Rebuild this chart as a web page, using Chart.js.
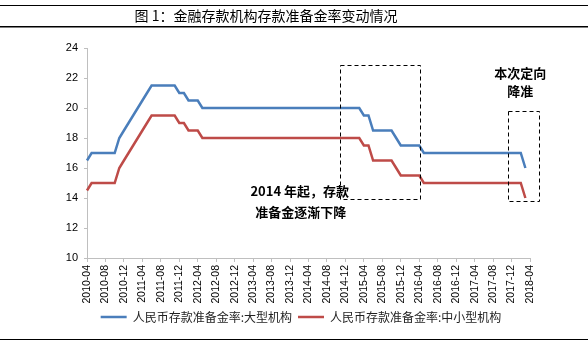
<!DOCTYPE html>
<html>
<head>
<meta charset="utf-8">
<script src="https://cdn.jsdelivr.net/npm/chart.js@4.4.1/dist/chart.umd.min.js"></script>
<style>
html, body { margin: 0; padding: 0; background: #fff; }
</style>
</head>
<body>
<canvas id="myChart" width="588" height="345"></canvas>
<script>
// 月份标签：2010-04 ～ 2018-04
let months = [];
for (let y = 2010, m = 4; y < 2018 || (y === 2018 && m <= 4); m++) {
    if (m > 12) { m = 1; y++; }
    if (y === 2018 && m > 4) break;
    months.push(y + '-' + String(m).padStart(2, '0'));
}

// 人民币存款准备金率：大型机构（月末，%）
let large_rate = [
    16.5, 17, 17, 17, 17, 17, 17, 18, 18.5,
    19, 19.5, 20, 20.5, 21, 21.5, 21.5, 21.5, 21.5, 21.5, 21.5, 21,
    21, 20.5, 20.5, 20.5, 20, 20, 20, 20, 20, 20, 20, 20,
    20, 20, 20, 20, 20, 20, 20, 20, 20, 20, 20, 20, 20, 20,
    20, 20, 20, 20, 20, 20, 20, 20, 20, 20, 20, 20,
    20, 19.5, 19.5, 18.5, 18.5, 18.5, 18.5, 18.5, 18, 17.5, 17.5, 17.5,
    17.5, 17.5, 17, 17, 17, 17, 17, 17, 17, 17, 17, 17,
    17, 17, 17, 17, 17, 17, 17, 17, 17, 17, 17, 17,
    16
];
// 人民币存款准备金率：中小型机构（月末，%）
let small_rate = [
    14.5, 15, 15, 15, 15, 15, 15, 16, 16.5,
    17, 17.5, 18, 18.5, 19, 19.5, 19.5, 19.5, 19.5, 19.5, 19.5, 19,
    19, 18.5, 18.5, 18.5, 18, 18, 18, 18, 18, 18, 18, 18,
    18, 18, 18, 18, 18, 18, 18, 18, 18, 18, 18, 18, 18, 18,
    18, 18, 18, 18, 18, 18, 18, 18, 18, 18, 18, 18,
    18, 17.5, 17.5, 16.5, 16.5, 16.5, 16.5, 16.5, 16, 15.5, 15.5, 15.5,
    15.5, 15.5, 15, 15, 15, 15, 15, 15, 15, 15, 15, 15,
    15, 15, 15, 15, 15, 15, 15, 15, 15, 15, 15, 15,
    14
];
let y_ticks = [10, 12, 14, 16, 18, 20, 22, 24];

let title_text = '图 1：金融存款机构存款准备金率变动情况';
let series_names = ['人民币存款准备金率:大型机构', '人民币存款准备金率:中小型机构'];

// 虚线框（横轴为月份序号，纵轴为数值）
let boxes = [
    {x1: 54.8, x2: 72.2, y1: 22.9, y2: 13.93},
    {x1: 91.2, x2: 97.9, y1: 19.8, y2: 13.8}
];
// 注释文字
let notes = [
    {text: '2014 年起，存款', x: 46.1, y: 14.45},
    {text: '准备金逐渐下降', x: 46.3, y: 13.05},
    {text: '本次定向', x: 93.9, y: 22.3},
    {text: '降准', x: 93.9, y: 21.1}
];

// 图例右移（对齐原图位置）
const legendShift = {
    id: 'legendShift',
    afterLayout(chart) {
        const lg = chart.legend;
        if (!lg) return;
        lg.left += 36;
        lg.right += 36;
        lg.top += 2;
        lg.bottom += 2;
    }
};

// 标题、上下横线、虚线框和注释
const decoPlugin = {
    id: 'deco',
    afterDraw(chart) {
        const c = chart.ctx;
        const xs = chart.scales.x, ys = chart.scales.y;
        c.save();
        c.strokeStyle = '#000';
        c.lineWidth = 1;
        c.beginPath(); c.moveTo(0, 5.5); c.lineTo(588, 5.5); c.stroke();
        c.lineWidth = 1.5;
        c.beginPath(); c.moveTo(0, 26.75); c.lineTo(588, 26.75); c.stroke();
        c.lineWidth = 1;
        c.beginPath(); c.moveTo(0, 339.5); c.lineTo(588, 339.5); c.stroke();

        c.fillStyle = '#000';
        c.font = '14px "Noto Sans CJK SC"';
        c.textAlign = 'center';
        c.textBaseline = 'middle';
        c.fillText(title_text, 266, 16);

        c.setLineDash([4, 3]);
        c.lineWidth = 1;
        for (const b of boxes) {
            const x1 = Math.round(xs.getPixelForValue(b.x1)) + 0.5;
            const x2 = Math.round(xs.getPixelForValue(b.x2)) + 0.5;
            const y1 = Math.round(ys.getPixelForValue(b.y1)) + 0.5;
            const y2 = Math.round(ys.getPixelForValue(b.y2)) + 0.5;
            c.strokeRect(x1, y1, x2 - x1, y2 - y1);
        }
        c.setLineDash([]);

        c.font = 'bold 13px "Noto Sans CJK SC"';
        for (const n of notes) {
            c.fillText(n.text, xs.getPixelForValue(n.x), ys.getPixelForValue(n.y));
        }
        c.restore();
    }
};

let ctx = document.getElementById('myChart');
let myChart = new Chart(ctx, {
    type: 'line',
    data: {
        labels: months,
        datasets: [{
            label: series_names[0],
            data: large_rate,
            borderColor: 'rgb(74,126,187)',
            backgroundColor: 'rgb(74,126,187)',
            borderWidth: 2.5,
            pointRadius: 0,
            tension: 0
        }, {
            label: series_names[1],
            data: small_rate,
            borderColor: 'rgb(190,75,72)',
            backgroundColor: 'rgb(190,75,72)',
            borderWidth: 2.5,
            pointRadius: 0,
            tension: 0
        }]
    },
    options: {
        responsive: false,
        animation: false,
        layout: {
            padding: {left: 0, right: 58, top: 48, bottom: 14}
        },
        plugins: {
            title: { display: false },
            tooltip: { enabled: false },
            legend: {
                position: 'bottom',
                labels: {
                    usePointStyle: true,
                    pointStyle: 'line',
                    pointStyleWidth: 26,
                    color: '#222',
                    padding: 6,
                    font: { family: '"Noto Sans CJK SC"', size: 12 }
                }
            }
        },
        scales: {
            x: {
                type: 'category',
                afterFit: (s) => { s.height = 45; },
                border: { color: '#bfbfbf' },
                grid: {
                    drawOnChartArea: false,
                    drawTicks: true,
                    tickLength: 4,
                    tickColor: (c) => (c.index % 4 === 0 ? '#bfbfbf' : 'rgba(0,0,0,0)')
                },
                ticks: {
                    autoSkip: false,
                    minRotation: 90,
                    maxRotation: 90,
                    padding: 3,
                    color: '#000',
                    font: { family: '"Liberation Sans"', size: 10.5 },
                    callback: function(v, i) {
                        return i % 4 === 0 ? this.getLabelForValue(v) : '';
                    }
                }
            },
            y: {
                min: 10,
                max: 24,
                afterFit: (s) => { s.width = 87; },
                afterBuildTicks: (s) => { s.ticks = y_ticks.map(v => ({value: v})); },
                border: { color: '#bfbfbf' },
                grid: {
                    drawOnChartArea: false,
                    drawTicks: true,
                    tickLength: 3,
                    tickColor: '#bfbfbf'
                },
                ticks: {
                    padding: 6,
                    color: '#000',
                    font: { family: '"Liberation Sans"', size: 11 }
                }
            }
        }
    },
    plugins: [legendShift, decoPlugin]
});
</script>
</body>
</html>
